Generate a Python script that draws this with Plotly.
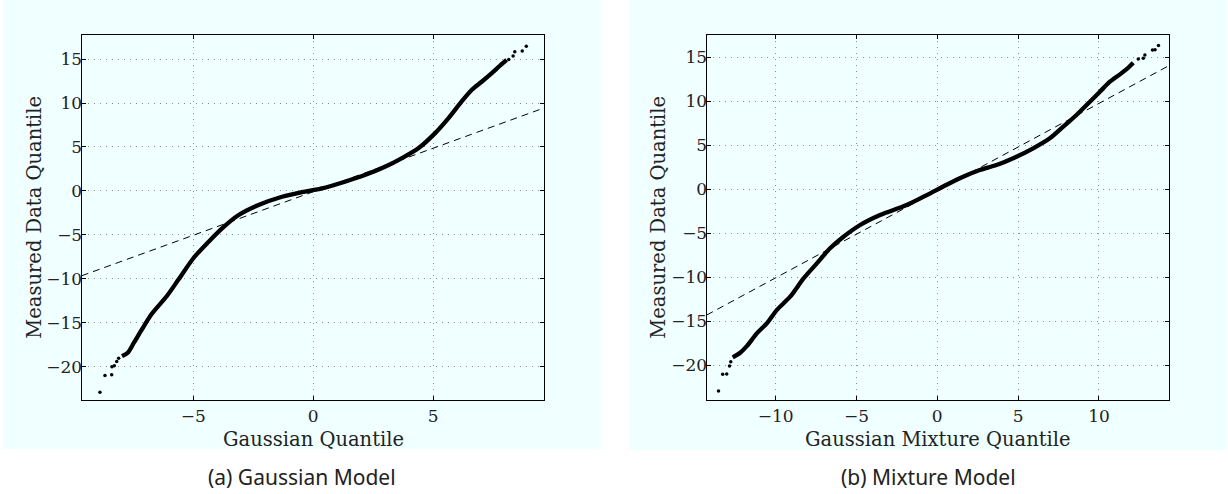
import plotly.graph_objects as go

# ---------------- data ----------------
# Panel (a): Gaussian model QQ plot
gauss_tail_low_x = [-8.89, -8.68, -8.40, -8.39, -8.29, -8.19, -8.11]
gauss_tail_low_y = [-22.9, -21.0, -20.9, -20.0, -19.9, -19.4, -19.05]
gauss_curve_x = [-7.97, -7.73, -7.48, -7.14, -6.72, -6.10, -5.61, -4.98, -4.36, -3.80,
                 -3.11, -2.28, -1.30, -0.47, 0.36, 1.32, 2.15, 2.99, 3.68, 4.38,
                 5.07, 5.63, 6.18, 6.60, 7.02, 7.43, 7.78, 8.06]
gauss_curve_y = [-18.8, -18.4, -17.3, -15.75, -13.95, -11.95, -10.06, -7.6, -5.78, -4.26,
                 -2.74, -1.60, -0.66, -0.13, 0.29, 1.05, 1.81, 2.75, 3.71, 4.85,
                 6.55, 8.26, 10.15, 11.48, 12.42, 13.38, 14.24, 14.9]
gauss_tail_high_x = [8.15, 8.33, 8.40, 8.71, 8.88]
gauss_tail_high_y = [14.95, 15.35, 15.84, 15.92, 16.45]
gauss_ref_x = [-9.65, 9.63]
gauss_ref_y = [-9.65, 9.45]

# Panel (b): Gaussian mixture model QQ plot
mix_tail_low_x = [-13.53, -13.27, -13.02, -12.85, -12.77]
mix_tail_low_y = [-22.9, -21.0, -20.97, -20.06, -19.57]
mix_curve_x = [-12.65, -12.19, -11.78, -11.16, -10.54, -9.93, -9.10, -8.27, -7.45, -6.63,
               -5.80, -4.77, -3.54, -1.89, -0.65, 0.55, 1.60, 2.63, 3.66, 4.90,
               5.93, 6.96, 7.79, 8.61, 9.44, 10.06, 10.68, 11.30, 11.81, 12.12]
mix_curve_y = [-19.07, -18.55, -17.8, -16.35, -15.2, -13.7, -12.18, -10.1, -8.39, -6.68,
               -5.36, -4.03, -2.90, -1.76, -0.63, 0.51, 1.45, 2.22, 2.78, 3.73,
               4.68, 5.82, 7.14, 8.47, 9.98, 11.12, 12.25, 13.09, 13.84, 14.4]
mix_tail_high_x = [12.43, 12.74, 12.84, 13.31, 13.47, 13.68]
mix_tail_high_y = [14.83, 14.91, 15.28, 15.85, 15.89, 16.38]
mix_ref_x = [-14.26, 14.35]
mix_ref_y = [-14.26, 14.1]

x_ticks_a = [-5, 0, 5]
x_ticks_b = [-10, -5, 0, 5, 10]
y_ticks = [-20, -15, -10, -5, 0, 5, 10, 15]

x_title_a = "Gaussian Quantile"
x_title_b = "Gaussian Mixture Quantile"
y_title = "Measured Data Quantile"
caption_a = "(a) Gaussian Model"
caption_b = "(b) Mixture Model"

# ---------------- figure ----------------
W, H = 1228, 494
BG = "#f0ffff"
SERIF = "DejaVu Serif"

fig = go.Figure()


def add_panel(xa, ya, tl_x, tl_y, cx, cy, th_x, th_y, rx, ry):
    fig.add_trace(go.Scatter(x=rx, y=ry, mode="lines", xaxis=xa, yaxis=ya,
                             line=dict(color="black", width=1, dash="7px,5px"),
                             showlegend=False, hoverinfo="skip"))
    fig.add_trace(go.Scatter(x=cx, y=cy, mode="lines", xaxis=xa, yaxis=ya,
                             line=dict(color="black", width=4.3, shape="spline", smoothing=0.8),
                             showlegend=False))
    fig.add_trace(go.Scatter(x=tl_x + th_x, y=tl_y + th_y, mode="markers", xaxis=xa, yaxis=ya,
                             marker=dict(color="black", size=3.5),
                             showlegend=False))


add_panel("x", "y", gauss_tail_low_x, gauss_tail_low_y, gauss_curve_x, gauss_curve_y,
          gauss_tail_high_x, gauss_tail_high_y, gauss_ref_x, gauss_ref_y)
add_panel("x2", "y2", mix_tail_low_x, mix_tail_low_y, mix_curve_x, mix_curve_y,
          mix_tail_high_x, mix_tail_high_y, mix_ref_x, mix_ref_y)

axis_common = dict(
    showline=True, linecolor="black", linewidth=1.2, mirror="ticks",
    ticks="inside", ticklen=4, tickcolor="black", tickwidth=1,
    showgrid=True, gridcolor="#8f8f8f", gridwidth=1, griddash="1px,5px",
    zeroline=False, tickfont=dict(family=SERIF, size=17, color="#222"),
)

xd_a = [81.7 / W, 544.3 / W]
xd_b = [706.7 / W, 1169.3 / W]
yd = [1 - 400.3 / H, 1 - 35 / H]

fig.update_layout(
    width=W, height=H, margin=dict(l=0, r=0, t=0, b=0),
    paper_bgcolor="white", plot_bgcolor=BG,
    xaxis=dict(domain=xd_a, range=[-9.65, 9.63], tickvals=x_ticks_a, anchor="y", **axis_common),
    yaxis=dict(domain=yd, range=[-23.82, 17.74], tickvals=y_ticks, anchor="x",
               ticklabelstandoff=-5, **axis_common),
    xaxis2=dict(domain=xd_b, range=[-14.26, 14.35], tickvals=x_ticks_b, anchor="y2", **axis_common),
    yaxis2=dict(domain=yd, range=[-23.95, 17.56], tickvals=y_ticks, anchor="x2",
                ticklabelstandoff=-5, **axis_common),
    shapes=[
        dict(type="rect", xref="paper", yref="paper", x0=3 / W, x1=601 / W, y0=1 - 449 / H, y1=1,
             fillcolor=BG, line=dict(width=0), layer="below"),
        dict(type="rect", xref="paper", yref="paper", x0=629 / W, x1=1227 / W, y0=1 - 450 / H, y1=1,
             fillcolor=BG, line=dict(width=0), layer="below"),
    ],
)

annos = []
for (xc, text) in [((xd_a[0] + xd_a[1]) / 2, x_title_a), ((xd_b[0] + xd_b[1]) / 2, x_title_b)]:
    annos.append(dict(x=xc, y=1 - 439 / H, xref="paper", yref="paper", text=text, showarrow=False,
                      xanchor="center", yanchor="middle",
                      font=dict(family=SERIF, size=19.5, color="#222")))
for xc in [35 / W, 659 / W]:
    annos.append(dict(x=xc, y=(yd[0] + yd[1]) / 2, xref="paper", yref="paper", text=y_title,
                      showarrow=False, textangle=-90, xanchor="center", yanchor="middle",
                      font=dict(family=SERIF, size=19.5, color="#222")))
for (xc, text) in [(302 / W, caption_a), (928 / W, caption_b)]:
    annos.append(dict(x=xc, y=1 - 477 / H, xref="paper", yref="paper", text=text, showarrow=False,
                      xanchor="center", yanchor="middle",
                      font=dict(family="Noto Sans", size=21, color="#222")))
fig.update_layout(annotations=annos)

fig.write_html("out.html", config={"displayModeBar": False},
               post_script="document.body.style.margin='0';document.body.style.padding='0';")
